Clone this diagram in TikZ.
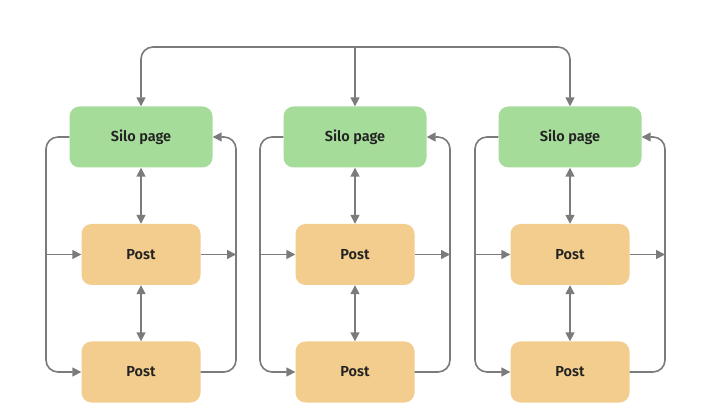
\documentclass[tikz,border=0pt]{standalone}
\usepackage{fontspec}
\setmainfont{Fira Sans}[UprightFont=* SemiBold]
\usepackage{tikz}
\usetikzlibrary{arrows.meta,calc}

\definecolor{silogreen}{HTML}{A6DC9A}
\definecolor{postorange}{HTML}{F3CD8E}
\definecolor{linkgray}{HTML}{7B7B7B}
\definecolor{labelink}{HTML}{222222}

\tikzset{
  silobox/.style={fill=silogreen,rounded corners=10pt,minimum width=143pt,
    minimum height=61pt,text=labelink,font=\fontsize{14.5}{17}\selectfont},
  postbox/.style={fill=postorange,rounded corners=10pt,minimum width=119pt,
    minimum height=61pt,text=labelink,font=\fontsize{14.5}{17}\selectfont},
  link/.style={draw=linkgray,line width=1.6pt,rounded corners=12pt,
    -{Triangle[length=9pt,width=9pt]}},
  twolink/.style={link,{Triangle[length=9pt,width=9pt]}-{Triangle[length=9pt,width=9pt]}}
}

\begin{document}
\begin{tikzpicture}[x=1pt,y=-1pt]
\useasboundingbox[fill=white] (0,0) rectangle (701,419);

% columns
\foreach \i/\x in {1/141,2/355,3/570}{
  \node[silobox] (silo\i) at (\x,137) {Silo page};
  \node[postbox] (posta\i) at (\x,254.5) {Post};
  \node[postbox] (postb\i) at (\x,372) {Post};

  \coordinate (lb\i) at (\x-95,372);
  \coordinate (rt\i) at (\x+95,137);

  % up and down
  \draw[twolink] (silo\i.south) -- (posta\i.north);
  \draw[twolink] (posta\i.south) -- (postb\i.north);

  % left loop
  \draw[link] (silo\i.west) -| (lb\i) -- (postb\i.west);
  \draw[link,rounded corners=0pt] (lb\i |- posta\i.west) -- (posta\i.west);

  % right loop
  \draw[link] (postb\i.east) -| (rt\i) -- (silo\i.east);
  \draw[link,rounded corners=0pt] (posta\i.east) -- (posta\i.east -| rt\i);
}

% top
\coordinate (top) at (355,47);
\draw[twolink] (silo1.north) |- (top) -| (silo3.north);
\draw[link] (top) -- (silo2.north);
\end{tikzpicture}
\end{document}
